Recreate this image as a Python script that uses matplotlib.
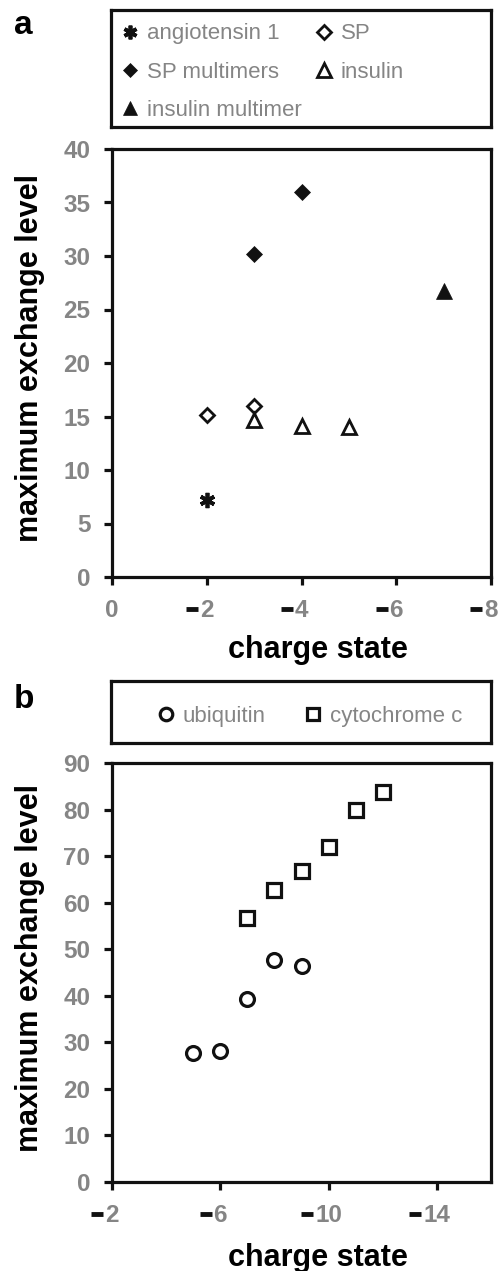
import matplotlib
matplotlib.use("Agg")
import matplotlib.pyplot as plt
from matplotlib.lines import Line2D
from matplotlib.transforms import IdentityTransform

plt.rcParams['font.family'] = ['Liberation Sans', 'DejaVu Sans']

# ---------------- data ----------------
# panel a
angio_x = [-2]
angio_y = [7.2]
sp_x = [-2, -3]
sp_y = [15.1, 16.0]
spm_x = [-3, -4]
spm_y = [30.2, 36.0]
ins_x = [-3, -4, -5]
ins_y = [14.7, 14.1, 14.0]
insm_x = [-7]
insm_y = [26.7]
a_xticks = [0, -2, -4, -6, -8]
a_yticks = [0, 5, 10, 15, 20, 25, 30, 35, 40]

# panel b
ubi_x = [-5, -6, -7, -8, -9]
ubi_y = [27.8, 28.2, 39.3, 47.6, 46.3]
cyt_x = [-7, -8, -9, -10, -11, -12]
cyt_y = [56.7, 62.7, 66.9, 71.9, 79.9, 83.7]
b_xticks = [-2, -6, -10, -14]
b_yticks = [0, 10, 20, 30, 40, 50, 60, 70, 80, 90]

# ---------------- style ----------------
W, H, DPI = 499, 1271, 100
GRAY = '#858585'
SPINE_W = 2.3
TICK_FS = 17.5
LABEL_FS = 22
LEG_FS = 16
EDGE = 2.0

fig = plt.figure(figsize=(W / DPI, H / DPI), dpi=DPI)


def fx(px):
    return px / W


def fy(py):
    return 1 - py / H


def box_axes(x0, x1, y0, y1):
    ax = fig.add_axes([fx(x0), fy(y1), fx(x1) - fx(x0), fy(y0) - fy(y1)])
    ax.set_xticks([])
    ax.set_yticks([])
    for s in ax.spines.values():
        s.set_linewidth(SPINE_W)
        s.set_color('#111111')
    return ax


def style_axes(ax, xticks, yticks):
    for s in ax.spines.values():
        s.set_linewidth(SPINE_W)
        s.set_color('#111111')
    ax.set_xticks(xticks)
    ax.set_yticks(yticks)
    ax.set_xticklabels([str(abs(v)) for v in xticks])
    ax.set_yticklabels([str(v) for v in yticks])
    ax.tick_params(direction='out', length=5.5, width=SPINE_W, color='#111111',
                   labelsize=TICK_FS, labelcolor=GRAY, pad=10,
                   top=False, right=False)
    for lbl in ax.get_xticklabels() + ax.get_yticklabels():
        lbl.set_fontweight('bold')
    ax.set_xlabel('charge state', fontsize=LABEL_FS, fontweight='bold')
    ax.set_ylabel('maximum exchange level', fontsize=LABEL_FS, fontweight='bold')


# ---------------- panel a ----------------
axa = fig.add_axes([fx(112), fy(577), fx(491) - fx(112), fy(149) - fy(577)])
h_ang, = axa.plot(angio_x, angio_y, linestyle='none', marker=(6, 2, 0), ms=11,
                  mew=2.7, color='#111111', label='angiotensin 1')
h_sp, = axa.plot(sp_x, sp_y, linestyle='none', marker='D', ms=7.6, mew=EDGE,
                 mfc='white', mec='#111111', label='SP')
h_spm, = axa.plot(spm_x, spm_y, linestyle='none', marker='D', ms=8.0, mew=0.5,
                  mfc='#111111', mec='#111111', label='SP multimers')
h_ins, = axa.plot(ins_x, ins_y, linestyle='none', marker='^', ms=10.5, mew=EDGE,
                  mfc='white', mec='#111111', label='insulin')
h_insm, = axa.plot(insm_x, insm_y, linestyle='none', marker='^', ms=11, mew=0.5,
                   mfc='#111111', mec='#111111', label='insulin multimer')
axa.set_xlim(0, -8)
axa.set_ylim(0, 40)
style_axes(axa, a_xticks, a_yticks)
axa.xaxis.set_label_coords(0.543, -0.135)
axa.yaxis.set_label_coords(-0.178, 0.512)

lega = box_axes(111, 491, 10, 127)
lega.legend([h_ang, h_spm, h_insm, h_sp, h_ins],
            ['angiotensin 1', 'SP multimers', 'insulin multimer', 'SP', 'insulin'],
            ncol=2, loc='upper left', bbox_to_anchor=(0.033, 0.885),
            frameon=False, fontsize=LEG_FS, labelcolor=GRAY,
            handlelength=0.6, handletextpad=0.45, columnspacing=0.7,
            labelspacing=0.78, borderpad=0, borderaxespad=0, markerscale=0.9)

# ---------------- panel b ----------------
axb = fig.add_axes([fx(112), fy(1182), fx(491) - fx(112), fy(763) - fy(1182)])
h_ubi, = axb.plot(ubi_x, ubi_y, linestyle='none', marker='o', ms=10, mew=2.3,
                  mfc='white', mec='#111111', label='ubiquitin')
h_cyt, = axb.plot(cyt_x, cyt_y, linestyle='none', marker='s', ms=10, mew=2.3,
                  mfc='white', mec='#111111', label='cytochrome c')
axb.set_xlim(-2, -16)
axb.set_ylim(0, 90)
style_axes(axb, b_xticks, b_yticks)
axb.xaxis.set_label_coords(0.543, -0.145)
axb.yaxis.set_label_coords(-0.178, 0.51)

legb = box_axes(111, 491, 681, 743)
legb.legend([h_ubi, h_cyt], ['ubiquitin', 'cytochrome c'], ncol=2,
            loc='center left', bbox_to_anchor=(0.127, 0.43), frameon=False,
            fontsize=LEG_FS, labelcolor=GRAY, handlelength=0.6,
            handletextpad=0.45, columnspacing=1.85, borderpad=0,
            borderaxespad=0, markerscale=0.9)

# panel letters
fig.text(fx(23), fy(26), 'a', fontsize=24, fontweight='bold', ha='center', va='center')
fig.text(fx(24), fy(699), 'b', fontsize=24, fontweight='bold', ha='center', va='center')

# black minus dashes in front of the grey digits of negative tick labels
fig.canvas.draw()
for ax, ticks in ((axa, a_xticks), (axb, b_xticks)):
    for lbl, v in zip(ax.get_xticklabels(), ticks):
        if v < 0:
            bb = lbl.get_window_extent()
            yc = (bb.y0 + bb.y1) / 2 + 1
            x_right = bb.x0 - 2
            fig.add_artist(Line2D([x_right - 12, x_right], [yc, yc],
                                  transform=IdentityTransform(), color='#111111',
                                  linewidth=3.5, solid_capstyle='butt'))

fig.savefig('out.png', dpi=DPI)
